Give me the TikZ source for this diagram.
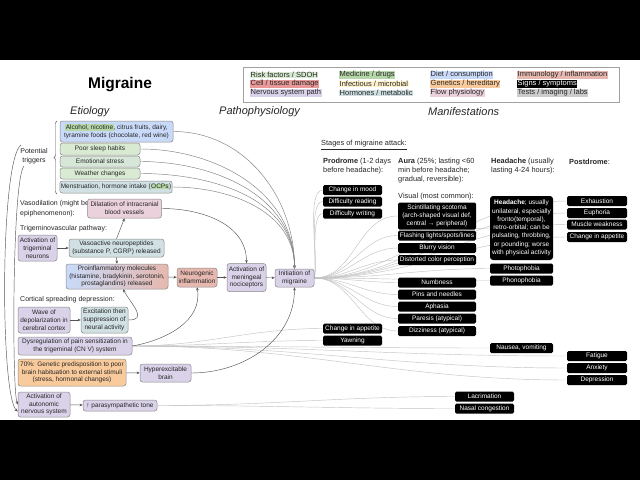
\documentclass[tikz,border=0pt]{standalone}
\usepackage{fontspec}
\setmainfont{Liberation Sans}
\usetikzlibrary{arrows.meta,decorations.pathreplacing,calc}
\definecolor{riskc}{HTML}{D9EAD3}
\definecolor{cellc}{HTML}{EA9999}
\definecolor{nervc}{HTML}{D9D2E9}
\definecolor{medc}{HTML}{B6D7A8}
\definecolor{infc}{HTML}{FFF2CC}
\definecolor{hormc}{HTML}{D0E0E3}
\definecolor{dietc}{HTML}{C9DAF8}
\definecolor{genc}{HTML}{F9CB9C}
\definecolor{flowc}{HTML}{EAD1DC}
\definecolor{immc}{HTML}{E6B8AF}
\definecolor{testc}{HTML}{CCCCCC}
\definecolor{boxgray}{HTML}{8A8A8A}
\definecolor{arrgray}{HTML}{555555}
\definecolor{fangray}{HTML}{C4C4C4}
\definecolor{txt}{HTML}{262626}
\pgfdeclarelayer{bgA}
\pgfdeclarelayer{bgB}
\pgfsetlayers{bgA,bgB,main}
\newcommand\fsm{\fontsize{6.5}{7.8}\selectfont}
\newcommand\flb{\fontsize{7}{9.5}\selectfont}
\newcommand\fmf{\fontsize{7.4}{9}\selectfont}
\newcommand\fleg{\fontsize{7.5}{9}\selectfont}
\newcommand\hlc[2]{{\setlength{\fboxsep}{0.5pt}\colorbox{#1}{#2}}}
\tikzset{
 box/.style={draw=boxgray, line width=0.5pt, rounded corners=2.5pt, align=center, font=\fsm, text=txt, inner sep=1pt},
 sym/.style={fill=black, text=white, rounded corners=1.5pt, align=center, font=\fsm, inner sep=0.5pt},
 wh/.style 2 args={minimum width=#1, minimum height=#2},
 lbl/.style={anchor=west, align=left, font=\flb, text=txt, inner sep=0pt},
 mlbl/.style={anchor=west, align=left, font=\fmf, text=txt, inner sep=0pt},
 leg/.style={anchor=west, font=\fleg, text=txt, inner sep=0pt},
 sechead/.style={anchor=west, font=\fontsize{11}{13}\selectfont\itshape, text=txt, inner sep=0pt},
 arr/.style={draw=arrgray, line width=0.45pt, -{Stealth[length=3.2pt,width=2.6pt]}},
 tarr/.style={draw=gray, line width=0.45pt, -{Stealth[length=3.2pt,width=2.6pt]}},
 fan/.style={draw=fangray, line width=0.45pt},
}
\begin{document}
\begin{tikzpicture}[x=1pt,y=-1pt]
\begin{pgfonlayer}{bgA}
\fill[black] (0,0) rectangle (640,480);
\fill[white] (0,60) rectangle (640,420);
\end{pgfonlayer}
\useasboundingbox (0,0) rectangle (640,480);

% titles
\node[font=\fontsize{15.5}{18}\selectfont\bfseries, text=black] (title) at (120,85) {Migraine};
\node[sechead] (het) at (70,112) {Etiology};
\node[sechead] (hpa) at (219,112) {Pathophysiology};
\node[sechead] (hma) at (428,112) {Manifestations};

% legend
\node[draw=boxgray!80, line width=0.6pt, minimum width=376, minimum height=35, inner sep=0] (legbox) at (431,84.5) {};
\node[leg] (l1) at (250,75) {\hlc{riskc}{Risk factors / SDOH}};
\node[leg] (l2) at (250,84) {\hlc{cellc}{Cell / tissue damage}};
\node[leg] (l3) at (250,93) {\hlc{nervc}{Nervous system path}};
\node[leg] (l4) at (339,75) {\hlc{medc}{Medicine / drugs}};
\node[leg] (l5) at (339,84) {\hlc{infc}{Infectious / microbial}};
\node[leg] (l6) at (339,93) {\hlc{hormc}{Hormones / metabolic}};
\node[leg] (l7) at (430,75) {\hlc{dietc}{Diet / consumption}};
\node[leg] (l8) at (430,84) {\hlc{genc}{Genetics / hereditary}};
\node[leg] (l9) at (430,93) {\hlc{flowc}{Flow physiology}};
\node[leg] (l10) at (517,75) {\hlc{immc}{Immunology / inflammation}};
\node[leg] (l11) at (517,84) {\hlc{black}{\textcolor{white}{Signs / symptoms}}};
\node[leg] (l12) at (517,93) {\hlc{testc}{Tests / imaging / labs}};

% etiology labels
\node[lbl, anchor=center, align=center] (lpot) at (34,156) {Potential\\triggers};
\node[lbl] (lvas) at (20,208.5) {Vasodilation (might be\\epiphenomenon):};
\node[lbl] (ltri) at (20,229) {Trigeminovascular pathway:};
\node[lbl] (lcsd) at (20,300) {Cortical spreading depression:};

% etiology boxes
\node[box, fill=dietc, wh={113}{21}] (alc) at (116.5,131.5) {\hlc{medc}{Alcohol, nicotine}, citrus fruits, dairy,\\tyramine foods (chocolate, red wine)};
\node[box, fill=riskc, wh={80}{12}] (sleep) at (100,149) {Poor sleep habits};
\node[box, fill=riskc!70!hormc, wh={80}{11}] (stress) at (100,161.5) {Emotional stress};
\node[box, fill=riskc, wh={80}{11}] (weather) at (100,173.5) {Weather changes};
\node[box, fill=hormc, wh={112}{12}] (mens) at (116,187) {Menstruation, hormone intake (\hlc{medc}{OCPs})};
\node[box, fill=flowc, wh={74}{19}] (dil) at (124.5,208.5) {Dilatation of intracranial\\blood vessels};
\node[box, fill=nervc, wh={39}{26}] (trig) at (37.5,248) {Activation of\\trigeminal\\neurons};
\node[box, fill=hormc, wh={95}{18}] (vaso) at (116.5,248) {Vasoactive neuropeptides\\(substance P, CGRP) released};
\node[box, left color=dietc, right color=immc, middle color=dietc!50!immc, wh={102}{25}] (pro) at (117,276.5) {Proinflammatory molecules\\(histamine, bradykinin, serotonin,\\prostaglandins) released};
\node[box, fill=immc, wh={40}{19}] (neuro) at (197,277.5) {Neurogenic\\inflammation};
\node[box, fill=nervc, wh={39}{28}] (men) at (246.5,277.5) {Activation of\\meningeal\\nociceptors};
\node[box, fill=nervc, wh={39}{18}] (init) at (294.5,278) {Initiation of\\migraine};
\node[box, fill=nervc, wh={52}{26}] (wave) at (44,320) {Wave of\\depolarization in\\cerebral cortex};
\node[box, fill=hormc, wh={47}{26}] (exc) at (104.5,320) {Excitation then\\suppression of\\neural activity};
\node[box, fill=nervc, wh={114}{18}] (dys) at (75,346) {Dysregulation of pain sensitization in\\the trigeminal (CN V) system};
\node[box, fill=genc, wh={108}{27}] (gen) at (72,372.5) {70\%: Genetic predisposition to poor\\brain habituation to external stimuli\\(stress, hormonal changes)};
\node[box, fill=nervc, wh={51}{18}] (hyp) at (165.5,373) {Hyperexcitable\\brain};
\node[box, fill=nervc, wh={52}{25}] (auto) at (44,404.5) {Activation of\\autonomic\\nervous system};
\node[box, fill=nervc, wh={74}{11}] (para) at (120,405.5) {↑ parasympathetic tone};

% manifestation labels
\node[mlbl] (lsta) at (321,145) {\underline{Stages of migraine attack:}};
\node[mlbl] (lpro) at (323,166.5) {\textbf{Prodrome} (1-2 days\\before headache):};
\node[mlbl] (laur) at (398,171) {\textbf{Aura} (25\%; lasting <60\\min before headache;\\gradual, reversible):};
\node[mlbl] (lhea) at (491,166.5) {\textbf{Headache} (usually\\lasting 4-24 hours):};
\node[mlbl] (lpos) at (569,162) {\textbf{Postdrome}:};
\node[mlbl] (lvis) at (398,197) {Visual (most common):};

% prodrome
\node[sym, wh={59}{10}] (mood) at (352.5,190) {Change in mood};
\node[sym, wh={59}{10}] (read) at (352.5,201.5) {Difficulty reading};
\node[sym, wh={59}{10}] (write) at (352.5,213.5) {Difficulty writing};
\node[sym, wh={59}{10}] (app1) at (352.5,328.5) {Change in appetite};
\node[sym, wh={59}{10}] (yawn) at (352.5,340.5) {Yawning};
% aura
\node[sym, wh={78}{27}] (scint) at (437,216) {Scintillating scotoma\\(arch-shaped visual def,\\central → peripheral)};
\node[sym, wh={78}{10}] (flash) at (437,235.5) {Flashing lights/spots/lines};
\node[sym, wh={78}{10}] (blur) at (437,248) {Blurry vision};
\node[sym, wh={78}{10}] (dist) at (437,260) {Distorted color perception};
\node[sym, wh={78}{10}] (numb) at (437,282.5) {Numbness};
\node[sym, wh={78}{10}] (pins) at (437,294.5) {Pins and needles};
\node[sym, wh={78}{10}] (aph) at (437,306.5) {Aphasia};
\node[sym, wh={78}{10}] (par) at (437,318.5) {Paresis (atypical)};
\node[sym, wh={78}{10}] (diz) at (437,331) {Dizziness (atypical)};
% headache
\node[sym, wh={63}{64}, font=\fontsize{6.5}{8.3}\selectfont, rounded corners=3pt] (hbig) at (521.5,228) {\textbf{Headache}; usually\\unilateral, especially\\fronto(temporal),\\retro-orbital; can be\\pulsating, throbbing,\\or pounding; worse\\with physical activity};
\node[sym, wh={63}{10}] (photo) at (521.5,268.5) {Photophobia};
\node[sym, wh={63}{10}] (phono) at (521.5,280.5) {Phonophobia};
\node[sym, wh={63}{10}] (naus) at (521.5,348) {Nausea, vomiting};
% postdrome
\node[sym, wh={60}{10}] (exh) at (597,201) {Exhaustion};
\node[sym, wh={60}{10}] (eup) at (597,213) {Euphoria};
\node[sym, wh={60}{10}] (musc) at (597,224.5) {Muscle weakness};
\node[sym, wh={60}{10}] (app2) at (597,237) {Change in appetite};
\node[sym, wh={60}{10}] (fat) at (597,356) {Fatigue};
\node[sym, wh={60}{10}] (anx) at (597,368) {Anxiety};
\node[sym, wh={60}{10}] (dep) at (597,380) {Depression};
% autonomic
\node[sym, wh={59}{10}] (lac) at (484.5,396.5) {Lacrimation};
\node[sym, wh={59}{10}] (nas) at (484.5,408.5) {Nasal congestion};

% coordinates for free ends
\coordinate (brb) at (57,194);
\coordinate (brt) at (57,121);
\coordinate (ptA) at (21,145);
\coordinate (ptB) at (24,166);

\begin{pgfonlayer}{bgB}
\foreach \t in {scint,flash,blur,dist,numb,pins,aph,par,diz,hbig,photo,phono,exh,eup,musc,app2}
  \draw[fan] (init.east) to[out=0,in=180] (\t.west);
\foreach \t in {mood,read,write}
  \draw[fan] (init.east) to[out=75,in=180,looseness=0.5] (\t.west);
\foreach \t in {app1,yawn,naus,fat,anx,dep}
  \draw[fan] (dys.east) to[out=0,in=180] (\t.west);
\foreach \t in {lac,nas}
  \draw[fan] (para.east) to[out=0,in=180] (\t.west);
\end{pgfonlayer}

% causal arrows
\foreach \t in {alc,sleep,stress,weather,mens}
  \draw[tarr] (\t.east) to[out=0,in=90] (init.north);
\draw[arr] (dil.east) to[out=0,in=90] (men.north);
\draw[arr] (trig) -- (vaso);
\draw[arr] (vaso.north) -- (dil.south);
\draw[arr] (vaso.south) -- (pro.north);
\draw[arr] (pro) -- (neuro);
\draw[arr] (neuro) -- (men);
\draw[arr] (men) -- (init);
\draw[arr] (wave) -- (exc);
\draw[arr] (exc.east) to[out=0,in=-60,looseness=1.6] ($(pro.south)+(6,0)$);
\draw[arr] (dys.east) to[out=10,in=-80] (neuro.south);
\draw[arr] (gen) -- (hyp);
\draw[arr] (hyp.east) to[out=0,in=-90] (init.south);
\draw[arr] (auto) -- (para);
\draw[arrgray, line width=0.45pt, decorate, decoration={brace, amplitude=3pt}] (brb) -- (brt);
\draw[arr] (ptA) .. controls (0,160) and (0,395) .. (auto.195);
\draw[arr] (ptB) .. controls (12,180) and (12,390) .. (auto.west);
\end{tikzpicture}
\end{document}
